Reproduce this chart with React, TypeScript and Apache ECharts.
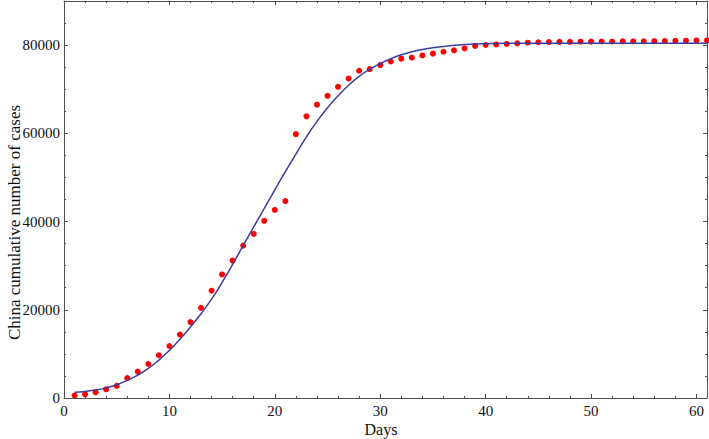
import React, { useEffect, useRef } from "react";
import * as echarts from "echarts";

// Days since start (x values)
const days = [
  1, 2, 3, 4, 5, 6, 7, 8, 9, 10, 11, 12, 13, 14, 15, 16, 17, 18, 19, 20,
  21, 22, 23, 24, 25, 26, 27, 28, 29, 30, 31, 32, 33, 34, 35, 36, 37, 38, 39, 40,
  41, 42, 43, 44, 45, 46, 47, 48, 49, 50, 51, 52, 53, 54, 55, 56, 57, 58, 59, 60, 61,
];

// Reported cumulative cases (red dots)
const cases = [
  571, 830, 1287, 1975, 2744, 4515, 5974, 7711, 9692, 11791,
  14380, 17205, 20438, 24324, 28018, 31161, 34546, 37198, 40171, 42638,
  44653, 59804, 63851, 66492, 68500, 70548, 72436, 74185, 74576, 75465,
  76288, 76936, 77150, 77658, 78064, 78497, 78824, 79251, 79824, 80026,
  80151, 80270, 80409, 80552, 80651, 80695, 80735, 80754, 80778, 80793,
  80813, 80824, 80844, 80860, 80881, 80894, 80928, 80967, 81008, 81054, 81093,
];

// Fitted curve at each day (blue line)
const fitted = [
  1290, 1500, 1800, 2300, 3000, 4000, 5200, 6700, 8600, 10800,
  13300, 16100, 19100, 22400, 26200, 30300, 34600, 38800, 43000, 47200,
  51300, 55300, 59200, 62700, 65800, 68500, 70900, 72900, 74500, 75800,
  76900, 77800, 78500, 79000, 79400, 79700, 79950, 80120, 80250, 80330,
  80380, 80410, 80430, 80440, 80450, 80450, 80450, 80450, 80450, 80450,
  80450, 80450, 80450, 80450, 80450, 80450, 80450, 80450, 80450, 80450, 80450,
];

const X_MIN = 0;
const X_MAX = 61;
const X_MAJOR = 10;
const X_MINOR = 2;
const Y_MIN = 0;
const Y_MAX = 90000;
const Y_MAJOR = 20000;
const Y_MINOR = 5000;

const X_TITLE = "Days";
const Y_TITLE = "China cumulative number of cases";

const FRAME = "#505050";
const FONT = "'Liberation Serif', 'Times New Roman', Times, serif";

export default function App() {
  const ref = useRef<HTMLDivElement>(null);

  useEffect(() => {
    if (!ref.current) return;
    const chart = echarts.init(ref.current, undefined, { renderer: "svg" });

    const xAxisBase = (position: string, interval: number, tickLen: number, withLine: boolean) => ({
      type: "value",
      position,
      min: X_MIN,
      max: X_MAX,
      interval,
      axisLine: { show: withLine, onZero: false, lineStyle: { color: FRAME, width: 1 } },
      axisTick: { show: true, inside: true, length: tickLen, lineStyle: { color: FRAME, width: 1 } },
      axisLabel: { show: false },
      splitLine: { show: false },
    });
    const yAxisBase = (position: string, interval: number, tickLen: number, withLine: boolean) => ({
      type: "value",
      position,
      min: Y_MIN,
      max: Y_MAX,
      interval,
      axisLine: { show: withLine, onZero: false, lineStyle: { color: FRAME, width: 1 } },
      axisTick: { show: true, inside: true, length: tickLen, lineStyle: { color: FRAME, width: 1 } },
      axisLabel: { show: false },
      splitLine: { show: false },
    });

    const xMain: any = xAxisBase("bottom", X_MAJOR, 4, true);
    xMain.axisLabel = {
      show: true,
      margin: 5,
      showMaxLabel: false,
      fontFamily: FONT,
      fontSize: 15,
      color: "#111",
      formatter: (v: number) => String(v),
    };
    xMain.name = X_TITLE;
    xMain.nameLocation = "middle";
    xMain.nameGap = 23;
    xMain.nameMoveOverlap = false;
    xMain.nameTextStyle = { fontFamily: FONT, fontSize: 16, color: "#111", padding: [0, 9, 0, 0] };

    const yMain: any = yAxisBase("left", Y_MAJOR, 4, true);
    yMain.axisLabel = {
      show: true,
      margin: 4,
      showMaxLabel: false,
      fontFamily: FONT,
      fontSize: 15,
      color: "#111",
      formatter: (v: number) => String(v),
    };
    yMain.name = Y_TITLE;
    yMain.nameLocation = "middle";
    yMain.nameGap = 41;
    yMain.nameRotate = 90;
    yMain.nameMoveOverlap = false;
    yMain.nameTextStyle = { fontFamily: FONT, fontSize: 17, color: "#111", padding: [0, 46, 0, 0] };

    const option: any = {
      animation: false,
      backgroundColor: "#ffffff",
      grid: { left: 64, right: 2, top: 1, bottom: 41, containLabel: false, outerBoundsMode: "none" },
      xAxis: [
        xMain,
        xAxisBase("bottom", X_MINOR, 2, false),
        xAxisBase("top", X_MAJOR, 4, true),
        xAxisBase("top", X_MINOR, 2, false),
      ],
      yAxis: [
        yMain,
        yAxisBase("left", Y_MINOR, 2, false),
        yAxisBase("right", Y_MAJOR, 4, true),
        yAxisBase("right", Y_MINOR, 2, false),
      ],
      series: [
        {
          type: "scatter",
          xAxisIndex: 0,
          yAxisIndex: 0,
          data: days.map((d, i) => [d, cases[i]]),
          symbol: "circle",
          symbolSize: 6,
          itemStyle: { color: "#ff0000", opacity: 1 },
          z: 2,
        },
        {
          type: "line",
          xAxisIndex: 0,
          yAxisIndex: 0,
          data: days.map((d, i) => [d, fitted[i]]),
          smooth: true,
          showSymbol: false,
          lineStyle: { color: "#3d3d9c", width: 1.5 },
          z: 3,
        },
      ],
    };

    chart.setOption(option);
    return () => chart.dispose();
  }, []);

  return (
    <div
      ref={ref}
      style={{ position: "fixed", left: 0, top: 0, width: 709, height: 439, background: "#fff" }}
    />
  );
}
